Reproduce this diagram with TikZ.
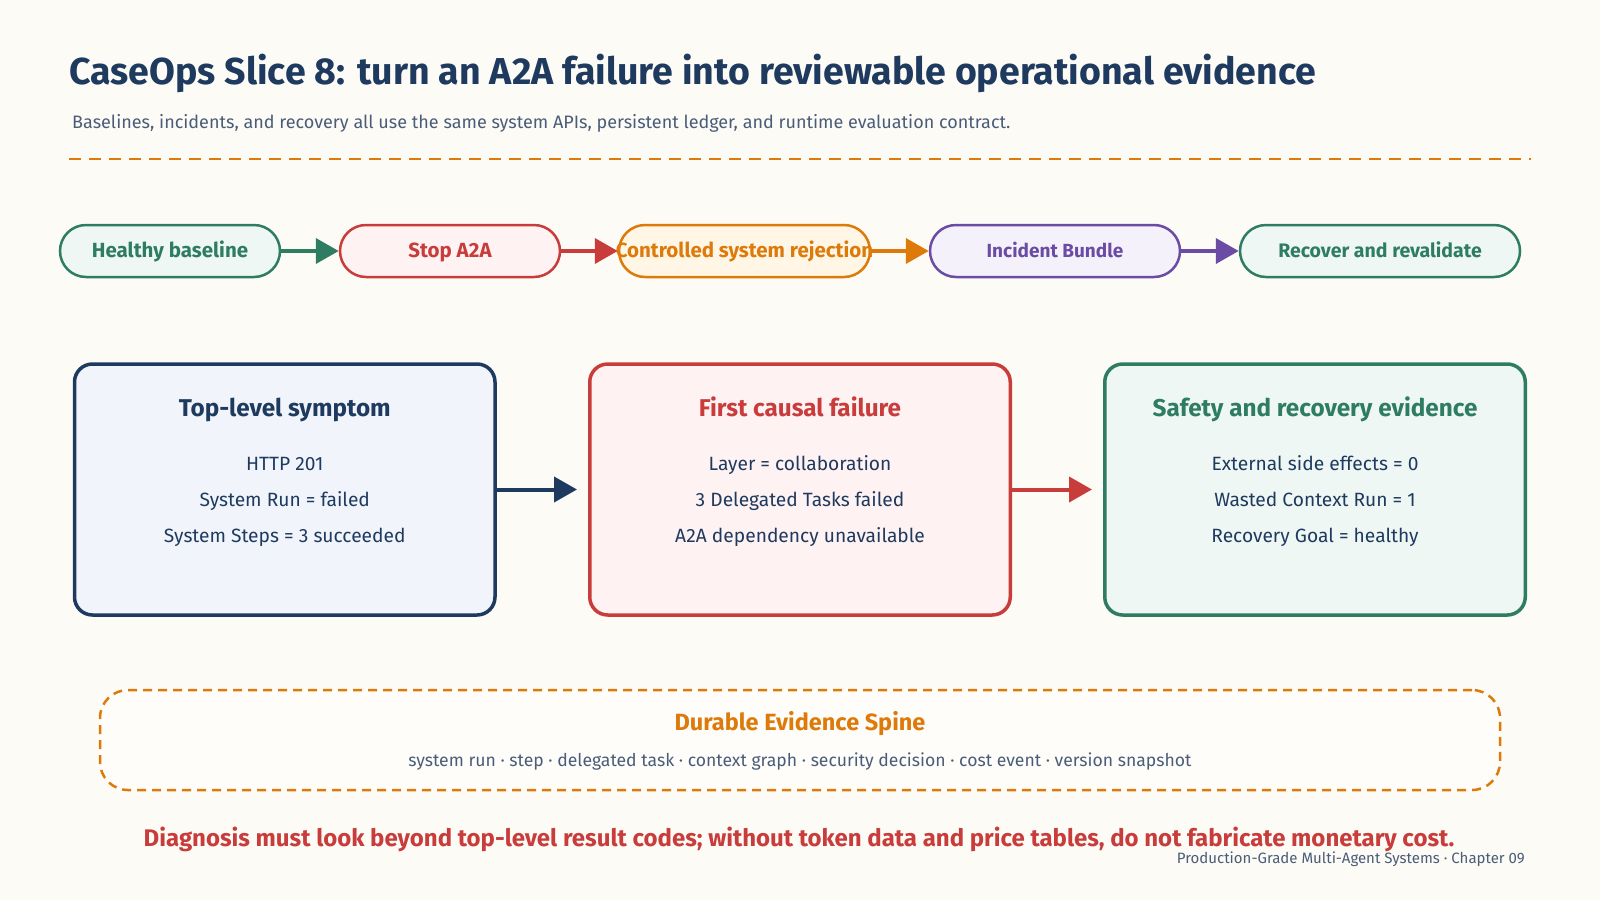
\documentclass[tikz,border=0pt]{standalone}
\usepackage{fontspec}
\setmainfont{Fira Sans}
\usetikzlibrary{arrows.meta}
\definecolor{bg}{HTML}{FDFBF6}
\definecolor{navy}{HTML}{1E3A5F}
\definecolor{navyl}{HTML}{F1F5FB}
\definecolor{sub}{HTML}{4A5D78}
\definecolor{orng}{HTML}{DD7A0A}
\definecolor{orngl}{HTML}{FFF6E6}
\definecolor{grn}{HTML}{2E7D62}
\definecolor{grnl}{HTML}{EFF7F4}
\definecolor{rd}{HTML}{C93C3C}
\definecolor{rdl}{HTML}{FFF2F2}
\definecolor{prp}{HTML}{6B4CA5}
\definecolor{prpl}{HTML}{F4F1FB}
\tikzset{
  fixed/.style={text height=1.1em, text depth=0.02em},
  pill/.style={draw, rounded corners=26pt, minimum height=52pt, line width=2.5pt, inner sep=0pt,
    text height=1.36em, text depth=0em,
    font=\fontsize{20.5}{24}\selectfont\bfseries},
  arr/.style={line width=4pt, -{Triangle[length=23pt,width=25pt]}, shorten <=-1pt},
  bigbox/.style={draw, rounded corners=18pt, line width=3.5pt, minimum width=420.5pt, minimum height=251pt, inner sep=0pt},
  btitle/.style={fixed, font=\fontsize{24.3}{28}\selectfont\bfseries},
  bline/.style={fixed, font=\fontsize{19.2}{22}\selectfont, text=navy},
}
\begin{document}
\begin{tikzpicture}[x=1pt,y=-1pt]
\fill[bg] (0,0) rectangle (1600,900);
\useasboundingbox (0,0) rectangle (1600,900);

\node[anchor=west, text=navy, font=\fontsize{37.5}{42}\selectfont\bfseries, inner sep=0pt, fixed] (title) at (69,79)
  {CaseOps Slice 8: turn an A2A failure into reviewable operational evidence};
\node[anchor=west, text=sub, font=\fontsize{18}{21}\selectfont, inner sep=0pt, fixed] (subtitle) at (72,123)
  {Baselines, incidents, and recovery all use the same system APIs, persistent ledger, and runtime evaluation contract.};
\coordinate (rl) at (69,159);
\coordinate (rr) at (1531,159);
\draw[orng, line width=2.5pt, dash pattern=on 12pt off 8pt] (rl) -- (rr);

% pills
\node[pill, draw=grn, fill=grnl, text=grn, minimum width=220pt] (p1) at (170,251) {Healthy baseline};
\node[pill, draw=rd, fill=rdl, text=rd, minimum width=220pt] (p2) at (450,251) {Stop A2A};
\node[pill, draw=orng, fill=orngl, text=orng, minimum width=251pt] (p3) at (744.5,251) {\makebox[0pt]{Controlled system rejection}};
\node[pill, draw=prp, fill=prpl, text=prp, minimum width=250pt, font=\fontsize{19}{22}\selectfont\bfseries] (p4) at (1055,251) {Incident Bundle};
\node[pill, draw=grn, fill=grnl, text=grn, minimum width=280pt, font=\fontsize{19.5}{22}\selectfont\bfseries] (p5) at (1380,251) {Recover and revalidate};
\draw[arr, grn] (p1.east) -- (p2.west);
\draw[arr, rd] (p2.east) -- (p3.west);
\draw[arr, orng] (p3.east) -- (p4.west);
\draw[arr, prp] (p4.east) -- (p5.west);

% big boxes
\node[bigbox, draw=navy, fill=navyl] (b1) at (284.75,489.5) {};
\node[bigbox, draw=rd, fill=rdl] (b2) at (800,489.5) {};
\node[bigbox, draw=grn, fill=grnl] (b3) at (1315,489.5) {};

\node[btitle, text=navy] (b1t) at (284.75,411) {Top-level symptom};
\node[bline] (b1a) at (284.75,465) {HTTP 201};
\node[bline] (b1b) at (284.75,501) {System Run = failed};
\node[bline] (b1c) at (284.75,537) {System Steps = 3 succeeded};

\node[btitle, text=rd] (b2t) at (800,411) {First causal failure};
\node[bline] (b2a) at (800,465) {Layer = collaboration};
\node[bline] (b2b) at (800,501) {3 Delegated Tasks failed};
\node[bline] (b2c) at (800,537) {A2A dependency unavailable};

\node[btitle, text=grn] (b3t) at (1315,411) {Safety and recovery evidence};
\node[bline] (b3a) at (1315,465) {External side effects = 0};
\node[bline] (b3b) at (1315,501) {Wasted Context Run = 1};
\node[bline] (b3c) at (1315,537) {Recovery Goal = healthy};

\coordinate (a1) at (577,489.5);
\coordinate (a2) at (1092,489.5);
\draw[arr, navy] (b1.east) -- (a1);
\draw[arr, rd] (b2.east) -- (a2);

% spine
\node[draw=orng, dash pattern=on 9pt off 6pt, rounded corners=28pt, line width=2.5pt, fill=white!50!bg,
  minimum width=1400pt, minimum height=100pt] (spine) at (800,740) {};
\node[text=orng, fixed, font=\fontsize{23.5}{27}\selectfont\bfseries] (spt) at (800,725) {Durable Evidence Spine};
\node[text=sub, fixed, font=\fontsize{17.6}{20}\selectfont] (spl) at (800,761)
  {system run · step · delegated task · context graph · security decision · cost event · version snapshot};

\node[text=rd, fixed, font=\fontsize{24}{28}\selectfont\bfseries] (warn) at (799,841)
  {Diagnosis must look beyond top-level result codes; without token data and price tables, do not fabricate monetary cost.};
\node[anchor=east, text=sub, fixed, font=\fontsize{15}{17}\selectfont, inner sep=0pt] (foot) at (1525,858)
  {Production-Grade Multi-Agent Systems · Chapter 09};
\end{tikzpicture}
\end{document}
